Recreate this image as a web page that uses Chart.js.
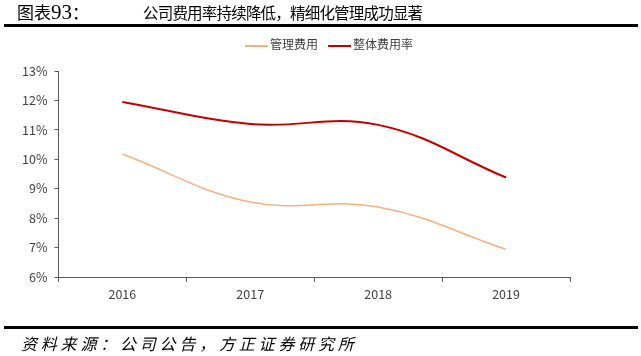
<!DOCTYPE html>
<html><head><meta charset="utf-8">
<script src="https://cdn.jsdelivr.net/npm/chart.js@4/dist/chart.umd.min.js"></script>
<style>
html,body{margin:0;padding:0;background:#fff;width:641px;height:356px;overflow:hidden;position:relative;font-family:"Noto Sans CJK SC",sans-serif;}
.t1{position:absolute;left:17px;top:0px;font-size:17px;color:#000;white-space:nowrap;line-height:24px;}
.t1 .n{font-family:"Liberation Serif",serif;font-size:21px;}
.t2{position:absolute;left:143px;top:1px;font-size:15.5px;color:#000;white-space:nowrap;line-height:22px;letter-spacing:-0.8px;}
.rule{position:absolute;left:4px;width:634px;height:3px;background:#000;}
.src{position:absolute;left:21px;top:332px;font-size:16px;font-style:italic;letter-spacing:3.8px;color:#000;white-space:nowrap;line-height:22px;}
#wrap{position:absolute;left:0;top:0;width:641px;height:356px;}
#legend{position:absolute;top:36px;left:0;width:641px;height:16px;font-size:12px;color:#404040;line-height:16px;}
.li{position:absolute;top:0;white-space:nowrap;}
.li i{display:inline-block;width:23px;vertical-align:middle;margin-right:2px;}
</style></head>
<body>
<div id="wrap"><canvas id="c"></canvas></div>
<div class="t1">图表<span class="n">93</span>：</div>
<div class="t2">公司费用率持续降低，精细化管理成功显著</div>
<div class="rule" style="top:24px"></div>
<div id="legend"></div>
<div class="rule" style="top:326px"></div>
<div class="src">资料来源：公司公告，方正证券研究所</div>
<script>
const categories = ["2016","2017","2018","2019"];
const mgmtRate = [10.18, 8.55, 8.38, 6.94];
const totalRate = [11.95, 11.2, 11.17, 9.38];
const seriesNames = ["管理费用","整体费用率"];
const yTicks = [6,7,8,9,10,11,12,13];

const axisColor = "#595959";
const textColor = "#404040";
const colors = ["#F4B183", "#C00000"];
const widths = [1.6, 2];

// HTML legend built from series names
const legendLefts = [245, 328];
const lg = document.getElementById("legend");
seriesNames.forEach((n, i) => {
  const d = document.createElement("div");
  d.className = "li";
  d.style.left = legendLefts[i] + "px";
  d.innerHTML = '<i style="border-top:2px solid ' + colors[i] + '"></i>' + n;
  lg.appendChild(d);
});

new Chart(document.getElementById("c"), {
  type: "line",
  data: {
    labels: categories,
    datasets: [
      {label: seriesNames[0], data: mgmtRate, borderColor: colors[0], backgroundColor: colors[0], borderWidth: widths[0], pointRadius: 0, tension: 0.4},
      {label: seriesNames[1], data: totalRate, borderColor: colors[1], backgroundColor: colors[1], borderWidth: widths[1], pointRadius: 0, tension: 0.4}
    ]
  },
  options: {
    responsive: true, maintainAspectRatio: false, animation: false,
    layout: {padding: {left: 15, right: 71, top: 71, bottom: 49}},
    plugins: {tooltip: {enabled: false}, legend: {display: false}},
    scales: {
      x: {
        offset: true,
        grid: {display: true, drawOnChartArea: false, drawTicks: true, tickLength: 5, color: axisColor, offset: true},
        border: {display: true, color: axisColor, width: 1},
        ticks: {color: textColor, font: {family: "'Noto Sans CJK SC'", size: 12.5}, padding: 5}
      },
      y: {
        min: 6, max: 13,
        afterBuildTicks: (ax) => { ax.ticks = yTicks.map(v => ({value: v})); },
        grid: {display: true, drawOnChartArea: false, drawTicks: true, tickLength: 4, color: axisColor},
        border: {display: true, color: axisColor, width: 1},
        ticks: {color: textColor, font: {family: "'Noto Sans CJK SC'", size: 12.5}, padding: 7, callback: v => v + "%"}
      }
    }
  }
});
</script>
</body></html>
